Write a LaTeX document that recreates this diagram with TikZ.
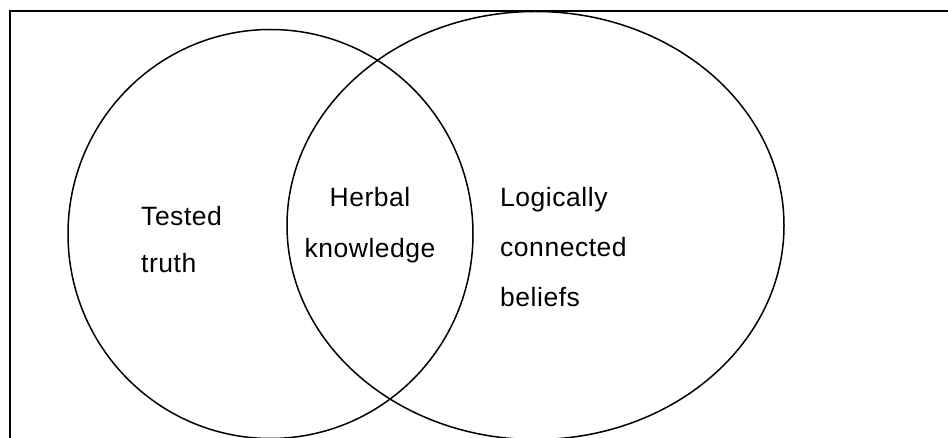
\documentclass[tikz,border=0pt]{standalone}
\usepackage{fontspec}
\setmainfont[LetterSpace=2]{Liberation Sans}
\usetikzlibrary{shapes.geometric}
\begin{document}
\begin{tikzpicture}[x=1pt,y=-1pt,
  frame/.style={line width=2pt},
  setline/.style={line width=1.5pt},
  lbl/.style={inner sep=0pt,font=\fontsize{26.5}{30}\selectfont}]
\useasboundingbox (0,0) rectangle (948,438);
\fill[white] (0,0) rectangle (948,438);
% frame (only top and left sides visible)
\draw[frame] (9.5,440) -- (9.5,11) -- (950,11);
% sets
\draw[setline] (270.5,234) ellipse [x radius=202.5pt, y radius=204.5pt];
\draw[setline] (535.5,225.5) ellipse [x radius=248.5pt, y radius=214pt];
% labels
\node[lbl,anchor=base west] (t1) at (141,226) {Tested};
\node[lbl,anchor=base west] (t2) at (141,273) {truth};
\node[lbl,anchor=base] (h1) at (370,207) {Herbal};
\node[lbl,anchor=base] (h2) at (370,258) {knowledge};
\node[lbl,anchor=base west] (l1) at (500,207) {Logically};
\node[lbl,anchor=base west] (l2) at (500,257) {connected};
\node[lbl,anchor=base west] (l3) at (500,307) {beliefs};
\end{tikzpicture}
\end{document}
